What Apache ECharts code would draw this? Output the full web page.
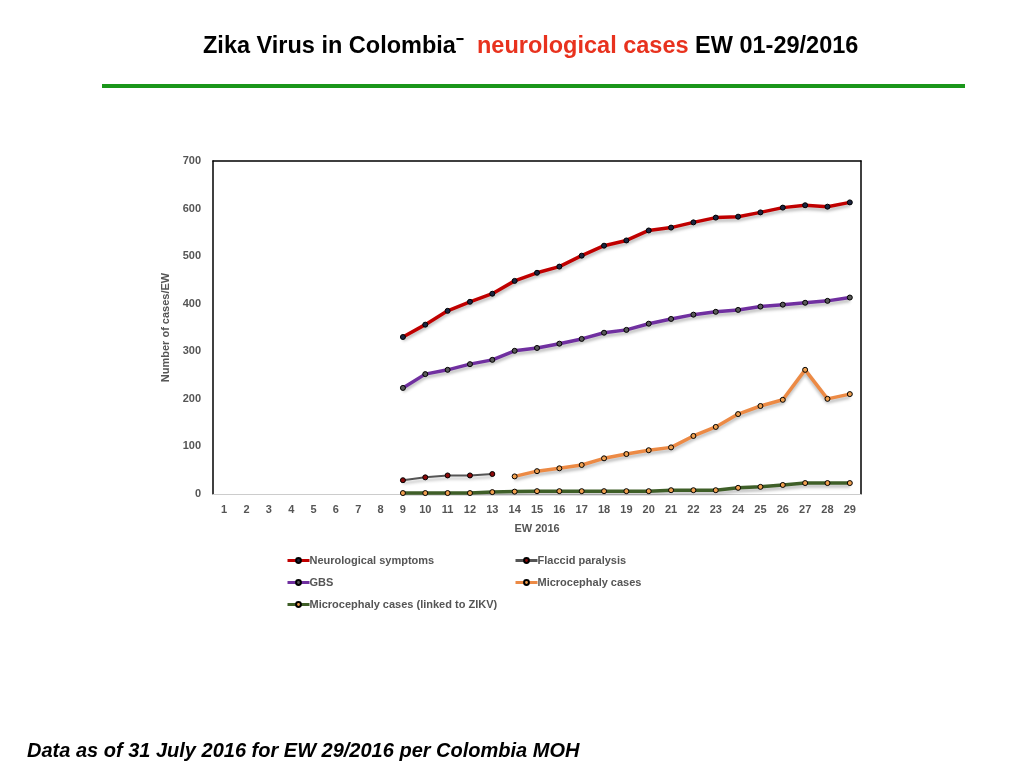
<!DOCTYPE html>
<html>
<head>
<meta charset="utf-8">
<script src="https://cdn.jsdelivr.net/npm/echarts@6/dist/echarts.min.js"></script>
<style>
  html, body { margin: 0; padding: 0; background: #fff; }
  #main { width: 1024px; height: 768px; }
</style>
</head>
<body>
<div id="main"></div>
<script>
// epidemiological weeks 1..29
var weeks = ['1','2','3','4','5','6','7','8','9','10','11','12','13','14','15','16','17','18','19','20','21','22','23','24','25','26','27','28','29'];

var neurological = [null,null,null,null,null,null,null,null,330,356,385,404,421,448,465,478,501,522,533,554,560,571,581,583,592,602,607,604,613];
var flaccid = [null,null,null,null,null,null,null,null,29,35,39,39,42,null,null,null,null,null,null,null,null,null,null,null,null,null,null,null,null];
var gbs = [null,null,null,null,null,null,null,null,223,252,261,273,282,301,307,316,326,339,345,358,368,377,383,387,394,398,402,406,413];
var microcephaly = [null,null,null,null,null,null,null,null,null,null,null,null,null,37,48,54,61,75,84,92,98,122,141,168,185,198,261,200,210];
var microZikv = [null,null,null,null,null,null,null,null,2,2,2,2,4,5,6,6,6,6,6,6,8,8,8,13,15,19,23,23,23];

var yTicks = [0, 700, 100];

var myChart = echarts.init(document.getElementById('main'));

var labelStyle = { color: '#555', fontWeight: 'bold', fontSize: 11, fontFamily: 'Liberation Sans' };

function makeSeries(name, data, color, width, dotColor, dotBorder) {
    return {
        name: name,
        type: 'line',
        data: data,
        connectNulls: false,
        symbol: 'circle',
        symbolSize: 5,
        lineStyle: {
            color: color, width: width,
            shadowColor: 'rgba(0,0,0,0.25)', shadowBlur: 3, shadowOffsetY: 3
        },
        itemStyle: { color: dotColor, borderColor: dotBorder, borderWidth: 1 },
        animation: false
    };
}

function legendAt(name, left, top) {
    return {
        data: [name],
        left: left,
        top: top,
        itemWidth: 22,
        itemHeight: 6,
        itemGap: 0,
        padding: 0,
        lineStyle: { width: 3, shadowBlur: 0, shadowOffsetY: 0 },
        textStyle: { color: '#555', fontWeight: 'bold', fontSize: 11, fontFamily: 'Liberation Sans', padding: [0, 0, 0, -5] }
    };
}

var option = {
    backgroundColor: '#fff',
    title: {
        text: '{b|Zika Virus in Colombia}{s|⁻  }{r|neurological cases}{b| EW 01-29/2016}',
        left: 198,
        top: 30,
        textStyle: {
            rich: {
                b: { color: '#000', fontSize: 23.5, fontWeight: 'bold', fontFamily: 'Liberation Sans' },
                s: { color: '#000', fontSize: 23.5, fontWeight: 'bold', fontFamily: 'Liberation Sans' },
                r: { color: '#e8321e', fontSize: 23.5, fontWeight: 'bold', fontFamily: 'Liberation Sans' }
            }
        }
    },
    graphic: [
        { type: 'line', shape: { x1: 102, y1: 86, x2: 965, y2: 86 }, style: { stroke: '#1a961a', lineWidth: 4 } },
        { type: 'text', left: 27, top: 741, style: { text: 'Data as of 31 July 2016 for EW 29/2016 per Colombia MOH', fill: '#000', font: 'italic bold 20px "Liberation Sans"' } }
    ],
    legend: [
        legendAt('Neurological symptoms', 286, 555),
        legendAt('Flaccid paralysis', 514, 555),
        legendAt('GBS', 286, 577),
        legendAt('Microcephaly cases', 514, 577),
        legendAt('Microcephaly cases (linked to ZIKV)', 286, 599)
    ],
    grid: { left: 213, right: 163, top: 161, bottom: 274 },
    xAxis: [{
        type: 'category',
        data: weeks,
        name: 'EW 2016',
        nameLocation: 'middle',
        nameGap: 29,
        nameTextStyle: labelStyle,
        axisLine: { onZero: false, lineStyle: { color: '#ccc', width: 1 } },
        axisTick: { show: false },
        axisLabel: Object.assign({ margin: 10 }, labelStyle)
    }, {
        type: 'category',
        data: weeks,
        position: 'top',
        axisLine: { onZero: false, lineStyle: { color: '#000', width: 1.5 } },
        axisTick: { show: false },
        axisLabel: { show: false }
    }],
    yAxis: [{
        type: 'value',
        min: yTicks[0],
        max: yTicks[1],
        interval: yTicks[2],
        name: 'Number of cases/EW',
        nameLocation: 'middle',
        nameGap: 33,
        nameTextStyle: labelStyle,
        axisLine: { show: true, lineStyle: { color: '#000', width: 1.5 } },
        axisTick: { show: false },
        splitLine: { show: false },
        axisLabel: Object.assign({ margin: 12 }, labelStyle)
    }, {
        type: 'value',
        min: yTicks[0],
        max: yTicks[1],
        interval: yTicks[2],
        position: 'right',
        axisLine: { show: true, lineStyle: { color: '#000', width: 1.5 } },
        axisTick: { show: false },
        splitLine: { show: false },
        axisLabel: { show: false }
    }],
    series: [
        makeSeries('Neurological symptoms', neurological, '#c00000', 3.5, '#1c2440', '#000'),
        makeSeries('Flaccid paralysis', flaccid, '#555555', 2, '#8b0a0a', '#000'),
        makeSeries('GBS', gbs, '#7030a0', 3.5, '#5a5a5a', '#000'),
        makeSeries('Microcephaly cases', microcephaly, '#ec8a45', 3.5, '#f0a050', '#000'),
        makeSeries('Microcephaly cases (linked to ZIKV)', microZikv, '#3f5f28', 3.5, '#f0a050', '#000')
    ]
};

myChart.setOption(option);
</script>
</body>
</html>
